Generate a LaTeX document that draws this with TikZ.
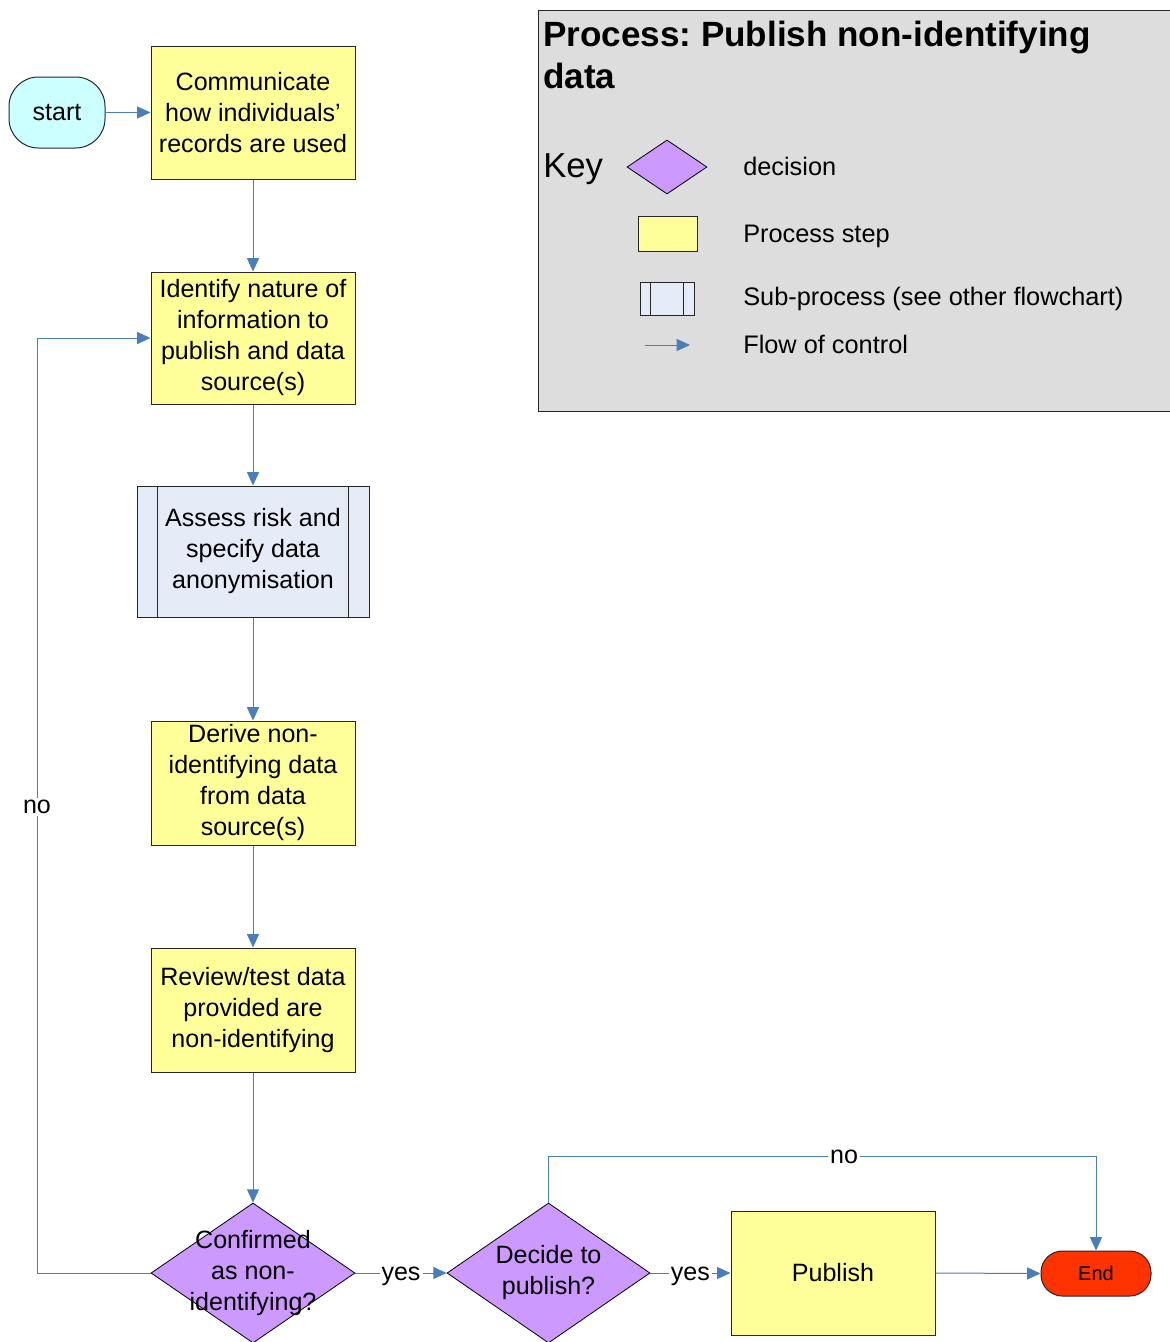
\documentclass[tikz,border=0pt]{standalone}
\usepackage{fontspec}
\setmainfont{Liberation Sans}
\usetikzlibrary{shapes.geometric,arrows.meta}
\frenchspacing
\definecolor{procyellow}{HTML}{FFFF99}
\definecolor{startcyan}{HTML}{CCFFFF}
\definecolor{decpurple}{HTML}{CC99FF}
\definecolor{subfill}{HTML}{E6ECF7}
\definecolor{endred}{HTML}{FF3300}
\definecolor{keygray}{HTML}{DDDDDD}
\definecolor{flowblue}{HTML}{4A7EBB}
\begin{document}
\begin{tikzpicture}[x=0.75pt,y=-0.75pt,
  txt/.style={font=\fontsize{18.8}{23.25}\selectfont},
  proc/.style={txt,draw=black!85,line width=0.75pt,fill=procyellow,minimum width=153pt,inner sep=0pt,align=center},
  subproc/.style={txt,draw=black!85,line width=0.75pt,fill=subfill,minimum width=174pt,minimum height=98.25pt,inner sep=0pt,align=center},
  decbox/.style={diamond,draw=black,line width=0.6pt,fill=decpurple,inner sep=0pt,minimum width=153pt,minimum height=105pt},
  flow/.style={draw=flowblue,line width=0.75pt,-{Triangle[length=10pt,width=9pt]}},
  lbl/.style={txt,fill=white,inner sep=1.5pt,yshift=-2.5pt},
  keytxt/.style={font=\fontsize{19}{23}\selectfont,anchor=base west,inner sep=0pt}]
\useasboundingbox (0,0) rectangle (1170,1342);
\fill[white] (0,0) rectangle (1170,1342);

% key panel
\node[draw=black!85,line width=1.3pt,fill=keygray,minimum width=475.5pt,minimum height=300.75pt,anchor=north west,inner sep=0pt] (keypanel) at (537.5,9.5) {};
\node[anchor=north west,inner sep=0pt,align=left,font=\fontsize{26.3}{31.5}\selectfont\bfseries] (title) at (543,21) {Process: Publish non-identifying\\data};
\node[anchor=base west,inner sep=0pt,font=\fontsize{26}{30}\selectfont] (keyword) at (543,177) {Key};
\node[diamond,draw=black,line width=0.6pt,fill=decpurple,inner sep=0pt,minimum width=60pt,minimum height=40.5pt] (kdec) at (667,167) {};
\node[draw=black!85,line width=0.75pt,fill=procyellow,minimum width=44.25pt,minimum height=26.25pt,inner sep=0pt] (kproc) at (667.5,233.5) {};
\node[draw=black!85,line width=0.75pt,fill=subfill,minimum width=40.5pt,minimum height=24.75pt,inner sep=0pt] (ksub) at (667,298.5) {};
\draw[black!85,line width=0.75pt] ([xshift=8.25pt]ksub.north west) -- ([xshift=8.25pt]ksub.south west);
\draw[black!85,line width=0.75pt] ([xshift=-8.25pt]ksub.north east) -- ([xshift=-8.25pt]ksub.south east);
\coordinate (ka) at (645,345);
\coordinate (kb) at (690,345);
\draw[flow] (ka) -- (kb);
\node[keytxt] (kt1) at (743,175) {decision};
\node[keytxt] (kt2) at (743,242) {Process step};
\node[keytxt] (kt3) at (743,305) {Sub-process (see other flowchart)};
\node[keytxt] (kt4) at (743,353) {Flow of control};

% main flow
\node[txt,draw=black!85,line width=0.75pt,fill=startcyan,rounded corners=22pt,minimum width=72pt,minimum height=53.25pt,inner sep=0pt] (start) at (57,112.5) {start};
\node[proc,minimum height=99.75pt] (c1) at (253,112.5) {Communicate\\how individuals’\\records are used};
\node[proc,minimum height=99pt] (c2) at (253,338) {Identify nature of\\information to\\publish and data\\source(s)};
\node[subproc] (sub) at (253,551.5) {Assess risk and\\specify data\\anonymisation};
\draw[black!85,line width=0.75pt] ([xshift=15.75pt]sub.north west) -- ([xshift=15.75pt]sub.south west);
\draw[black!85,line width=0.75pt] ([xshift=-15.75pt]sub.north east) -- ([xshift=-15.75pt]sub.south east);
\node[proc,minimum height=93pt] (c4) at (253,783) {Derive non-\\identifying data\\from data\\source(s)};
\node[proc,minimum height=93pt] (c5) at (253,1010) {Review/test data\\provided are\\non-identifying};
\node[decbox] (d1) at (253,1273) {};
\node[txt,align=center,inner sep=0pt] (d1t) at (253,1273) {Confirmed\\as non-\\identifying?};
\node[decbox,minimum width=152.25pt] (d2) at (548.5,1273) {};
\node[txt,align=center,inner sep=0pt] (d2t) at (548.5,1273) {Decide to\\publish?};
\node[proc,minimum height=93pt] (pub) at (833,1273) {Publish};
\node[draw=black!85,line width=0.75pt,fill=endred,rounded corners=16pt,minimum width=82.5pt,minimum height=33.75pt,inner sep=0pt,font=\fontsize{15}{18}\selectfont] (end) at (1096,1273.5) {End};

\coordinate (nl1) at (37,1273);
\coordinate (nl2) at (37,338);
\coordinate (nr1) at (548.5,1156);
\coordinate (nr2) at (1096,1156);

\draw[flow] (start) -- (c1);
\draw[flow] (c1) -- (c2);
\draw[flow] (c2) -- (sub);
\draw[flow] (sub) -- (c4);
\draw[flow] (c4) -- (c5);
\draw[flow] (c5) -- (d1);
\draw[flow] (d1.west) -- (nl1) -- node[lbl,yshift=1.5pt] {no} (nl2) -- (c2.west);
\draw[flow] (d1.east) -- node[lbl] {yes} (d2.west);
\draw[flow] (d2.east) -- node[lbl] {yes} (pub.west);
\draw[flow] (d2.north) -- (nr1) -- node[lbl,pos=0.54,yshift=1.5pt] {no} (nr2) -- (end.north);
\draw[flow] (pub.east) -- (end.west);
\end{tikzpicture}
\end{document}
